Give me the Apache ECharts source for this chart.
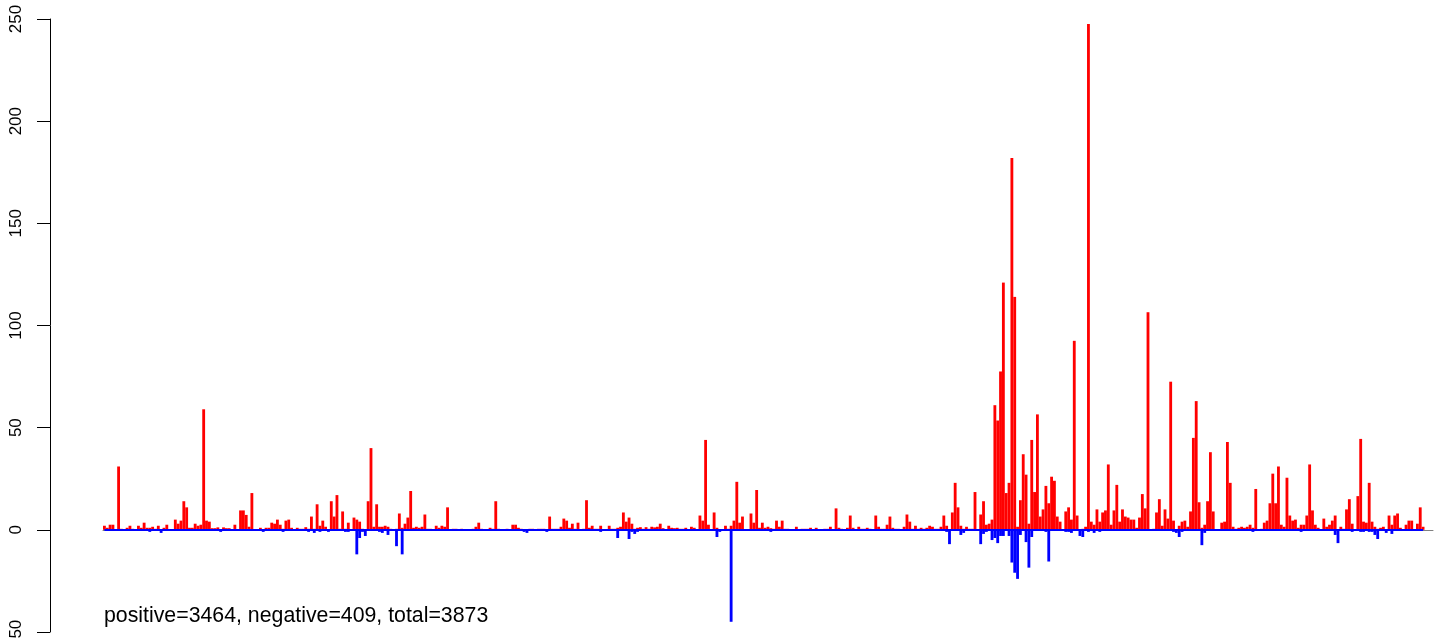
<!DOCTYPE html>
<html><head><meta charset="utf-8">
<script src="https://cdn.jsdelivr.net/npm/echarts@6/dist/echarts.min.js"></script>
<style>html,body{margin:0;padding:0;background:#fff}#c{width:1444px;height:638px}</style>
</head><body><div id="c"></div>
<script>
// positive values (red), read left to right
const posA = [2,1,2.5,2.5,0.3,31,0.5,0.3,1,2, 0.5,0.3,2,1,3.5,1,1,1.5,0.5,2, 0.3,1,2.5,0.3,0.3,5,3,4.5,14,11,
  1,1,3,2,2.5,59,4.5,4,0.8,0.8, 1.2,0,1.2,0.8,0.8,0.3,2.5,0.3,9.5,9.5, 7.3,1.5,18,0,0,1,0,1,1,3.5,
  3,5,2.5,0.5,4.5,5,1,0.3,1,0.5, 0.5,1.3,0.5,6.5,0.5,12.5,2,4.5,1.5,0, 14,6.5,17,0.5,9,0.5,3.5,0,6,5, 4,0.5,0,14];
const posB = [40,1.5,12.5,1.5,1.5,2,1.5,0.5,0,0.5, 8,1,3,6,19,1,1.5,1,1.5,7.5, 0.5,0.5,0,2,1,2,1.5,11,0,0.5,
  0.5,0,0.5,0,0,0,0.5,1.5,3.5,0.5, 0,0,1,0.5,14,0.5,0,0,0.5,0, 2.5,2.5,1,0.5,0,0,0.5,0.5,0,0.5,
  0.5,0.5,0,6.5,0.5,0.5,0.5,1.5,5.5,4.5, 1,3,0.5,3.5,0.3,0.5,14.5,1,2,0.5, 0.5,2,0.3,0.3,2,0.5,0.5,1,1.5,8.5, 4,6,3];
const posC = [0.5,1,1.3,0.5,1.3,0.5,1.5,1.2,1.5,3, 0.8,0,2,1,0.8,1,0.5,0.5,1,0.3, 1.5,1,0.3,7,4.5,44,2.5,0,8.5,1,
  0.3,0,2,0.5,2,4.5,23.5,3.5,6.5,0.3, 0.3,8,3.5,19.5,1,3.5,1,1.5,0.8,0.5, 4.5,1.5,4.5,0.5,0.5,0.3,0.3,1.5,0.3,0.5,
  0.5,0.5,1,0.3,1,0.3,0.3,0.5,0.5,1.5, 0.3,10.5,1,0.5,0.3,1,7,1,0.3,1.5, 0.5,0.5,1,0.5,0.3,7,1.5,0.5,0.5,2.5, 6.5,1,0.5,0.5];
const posD = [0,1.5,7.5,4,0.5,2,0.5,1,0.5,1, 2,1.5,0.5,0.5,1.5,7,2,0,8.5,23, 11,2,0.5,1.5,0.5,0.5,18.5,0,7.5,14,
  2.5,3,5,61,53.5,77.5,121,18,23,182, 114,1.5,14.5,37,27,3,44,18.5,56.5,6.5, 10,21.5,13,26,24,6.5,4,0,9,11,
  5,92.5,7,0,0.5,1.5,247.5,4,2.5,10, 4,8.5,9.5,32,2.5,9.5,22,4,10,6.5, 6,5,5,1,6,17.5,10.5,106.5,0,0.5, 8.5,15,2,10];
const posE = [5.5,72.5,4.5,0,2,4,4.5,1.5,9,45, 63,13.5,1,2.5,14,38,9,0.3,0.3,3.5, 4,43,23,1.5,0.5,1,1.5,1,1.5,2.5,
  1,20,0.3,0.5,3.5,4.5,13,27.5,13,31, 2.5,1.5,25.5,7,4.5,5,1,2.5,2.5,7, 32,9.5,2.5,1,0.3,5.5,1.5,2.5,4.5,7,
  0,1.5,0.5,10,15,3,0.3,16.5,44.5,4, 3.5,23,4,1.5,0.5,1,1.5,0,7,2.5, 7,8,1,0.3,2.5,4.5,4.5,0.3,3,11, 1.5];
// negative values (blue), same positions
const negA = [0,0,0,0,0,0,0,0,0,0, -0.5,0,0,0,0,0,-1,0,0,0, -1.5,0,0,0,0,0,0,0,0,0, 0,0,-0.5,-0.5,0,0,0,0,0,0,
  0,-1,0,0,0,0,0,0,0,0, 0,0,0,0,0,0,-1,0,0,0, 0,0,0,-1,0,0,0,0,0,0, 0,0,-1,0,-1.5,0,-1,0,0,-1,
  0,0,0,0,0,-1,-1,0,0,-12, -4,-1,-3,0];
const negB = [0,-0.5,0,-1,-1.5,-0.5,-2.5,0,0,-8, 0,-12,0,0,0,0,0,0,0,0, 0,0,0,0,0,0,0,0,-0.5,0, 0,0,0,0,0,0,0,-0.5,0,0,
  0,0,0,0,0,0,0,0,0,0, 0,0,0,0,-1,-1.5,0,0,0,0, 0,0,-1,0,0,0,0,0,0,0, 0,0,0,0,0,0,0,0,0,0,
  0,-1,-0.5,0,0,-0.5,-0.5,-4,-0.5,0, 0,-4.5,-1];
const negC = [-2,-1,0,0,0,0,-0.5,0,0,0, 0,0,0,0,0,0,0,0,0,0, 0,0,0,0,0,0,0,0,0,-3.5, -1,0,0,0,-45,-0.5,0,0,0,0,
  0,0,0,0,0,0,0,-0.5,-1,0, 0,0,0,0,-0.5,-0.5,0,0,-0.5,0, 0,0,0,0,0,0,0,0,0,0, 0,0,0,0,0,0,0,0,-0.5,0,
  0,0,0,0,0,0,0,0,0,0, 0,-0.5,0,0];
const negD = [-0.5,0,0,-0.5,0,0,0,0,0,0, 0,0,0,0,0,0,-1,-7,0,-0.5, 0,-2.5,-1.5,0,0,0,0,-0.5,-7,-2, -1,0,-5,-4,-6.5,-3,-3,0,-3,-16,
  -21,-24,-2.5,-0.5,-6,-18.5,-3.5,0,0,-0.5, -0.5,-1,-15.5,0,0,-0.5,0,-0.5,-1,-1, -1.5,0,0,-3,-3.5,0,-1,0,-1.5,0,
  -1,0,0,-0.5,0,0,0,-0.5,0,0, 0,-0.5,0,0,0,-0.5,0,0,0,0, 0,0,-0.5,0];
const negE = [0,0,-1,-1.5,-3.5,-1,0,0,0,0, 0,0,-7.5,-1.5,0,0,0,0,0,0, 0,0,-0.5,0,0,0,0,0,0,0, -1,0,0,-0.5,0,-0.5,0,-0.5,0,0,
  0,0,0,0,-0.5,0,0,-1,0,0, 0,0,0,-0.5,0,0,0,0,0,-2.5, -6.5,0,-0.5,0,-0.5,-1,0,-0.5,-1,-1, 0,-1,-1,-2.5,-4.5,-0.5,0,-1.5,0,-2,
  0,-0.5,0,0,0,0,0,0,0,0, 0];
const yTicks = [-50, 0, 50, 100, 150, 200, 250];
const footnote = 'positive=3464, negative=409, total=3873';

const positive = [].concat(posA, posB, posC, posD, posE);
const negative = [].concat(negA, negB, negC, negD, negE);
const N = positive.length;
const pad = ['p1', 'p2', 'p3'];
const categories = positive.map((_, i) => String(i + 1)).concat(pad);

const chart = echarts.init(document.getElementById('c'), null, {renderer: 'canvas'});
const FONT = '"Liberation Sans", Arial, Helvetica, sans-serif';
chart.setOption({
  animation: false,
  backgroundColor: '#ffffff',
  grid: [
    {left: 50, right: 11, top: 19, bottom: 6, containLabel: false, outerBoundsMode: 'none'},
    {left: 103, right: 11, top: 19, bottom: 6, containLabel: false, outerBoundsMode: 'none'}
  ],
  xAxis: [
    {gridIndex: 0, type: 'value', show: false, min: 0, max: 1},
    {gridIndex: 1, type: 'category', data: categories, boundaryGap: true,
     axisLine: {show: true, onZero: true, lineStyle: {color: '#808080', width: 1}},
     axisTick: {show: false}, axisLabel: {show: false}, splitLine: {show: false}}
  ],
  yAxis: [
    {gridIndex: 0, type: 'value', min: yTicks[0], max: yTicks[yTicks.length - 1], interval: 50,
     axisLine: {show: true, lineStyle: {color: '#000', width: 1}},
     axisTick: {show: true, length: 13, inside: false, lineStyle: {color: '#000', width: 1}},
     axisLabel: {show: true, rotate: 90, margin: 25, fontSize: 17, color: '#000', fontFamily: FONT},
     splitLine: {show: false}},
    {gridIndex: 1, type: 'value', min: yTicks[0], max: yTicks[yTicks.length - 1], interval: 50, show: false}
  ],
  series: [
    {type: 'bar', xAxisIndex: 1, yAxisIndex: 1, data: positive, barGap: '-100%', barCategoryGap: '0%',
     itemStyle: {color: '#ff0000'}, silent: true,
     markLine: {silent: true, symbol: 'none', label: {show: false},
       lineStyle: {color: '#0000ff', width: 2, type: 'solid'},
       data: [[{coord: ['1', 0]}, {coord: [String(N), 0]}]]}},
    {type: 'bar', xAxisIndex: 1, yAxisIndex: 1, data: negative, barGap: '-100%', barCategoryGap: '0%',
     itemStyle: {color: '#0000ff'}, silent: true}
  ],
  graphic: [
    {type: 'text', left: 104, top: 606, silent: true,
     style: {text: footnote, font: '21.3px ' + FONT, fill: '#000'}}
  ]
});
</script></body></html>
